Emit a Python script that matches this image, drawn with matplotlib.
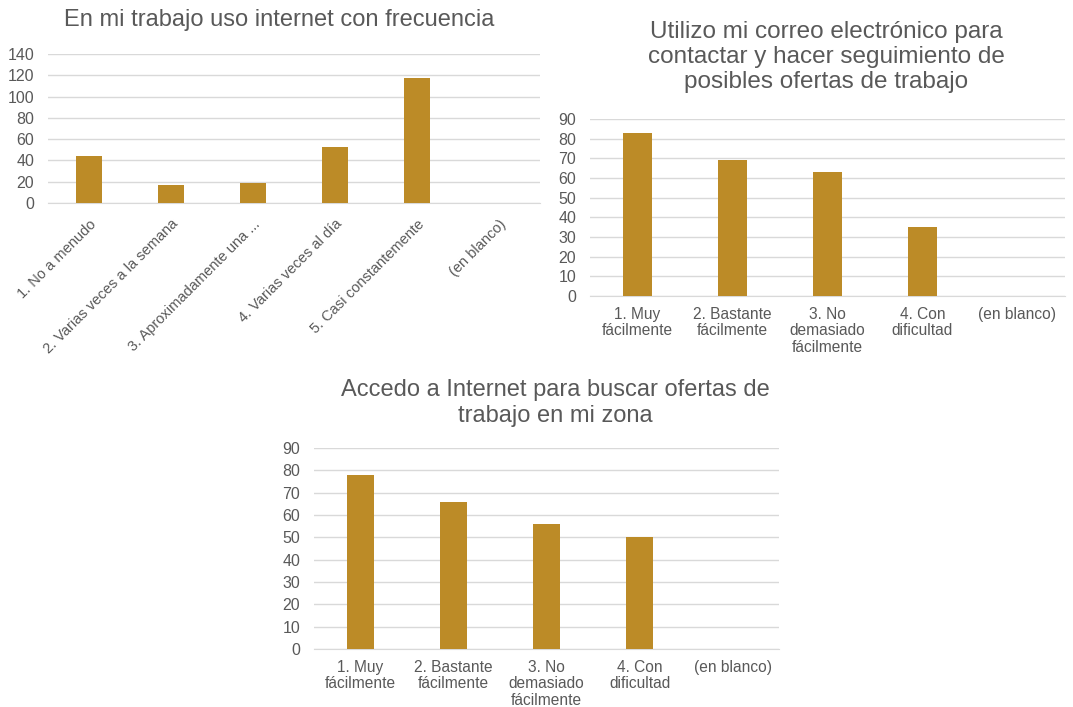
import matplotlib
matplotlib.use("Agg")
import matplotlib.pyplot as plt
import numpy as np

plt.rcParams['font.family'] = ['Liberation Sans', 'DejaVu Sans']

# chart 1
cats1 = ["1. No a menudo", "2. Varias veces a la semana", "3. Aproximadamente una ...",
         "4. Varias veces al día", "5. Casi constantemente", "(en blanco)"]
vals1 = [44, 17, 19, 53, 117, 0]
title1 = "En mi trabajo uso internet con frecuencia"

# chart 2
cats2 = ["1. Muy\nfácilmente", "2. Bastante\nfácilmente", "3. No\ndemasiado\nfácilmente",
         "4. Con\ndificultad", "(en blanco)"]
vals2 = [83, 69, 63, 35, 0]
title2 = "Utilizo mi correo electrónico para\ncontactar y hacer seguimiento de\nposibles ofertas de trabajo"

# chart 3
cats3 = cats2
vals3 = [78, 66, 56, 50, 0]
title3 = "Accedo a Internet para buscar ofertas de\ntrabajo en mi zona"

BAR = '#BC8B27'
TXT = '#595959'
GRID = '#D9D9D9'
W, H = 1073, 707

fig = plt.figure(figsize=(W / 100, H / 100), dpi=100)


def px_axes(x0, y0, x1, y1):
    return fig.add_axes([x0 / W, 1 - y1 / H, (x1 - x0) / W, (y1 - y0) / H])


def draw(ax, cats, vals, ymax, step, rot=False, width=0.3):
    x = np.arange(len(cats))
    ax.bar(x, vals, width=width, color=BAR, zorder=3)
    ax.set_xlim(-0.5, len(cats) - 0.5)
    ax.set_ylim(0, ymax)
    ax.set_yticks(np.arange(0, ymax + 1, step))
    ax.yaxis.grid(True, color=GRID, linewidth=1)
    ax.set_axisbelow(True)
    for s in ['top', 'right', 'left']:
        ax.spines[s].set_visible(False)
    ax.spines['bottom'].set_color(GRID)
    ax.tick_params(length=0, colors=TXT)
    ax.set_xticks(x)
    if rot:
        ax.set_xticklabels(cats, rotation=45, ha='right', rotation_mode='anchor',
                           fontsize=10.5)
        ax.tick_params(axis='x', pad=10)
    else:
        ax.set_xticklabels(cats, linespacing=1.1, fontsize=11.2)
        ax.tick_params(axis='x', pad=8)
    ax.tick_params(axis='y', pad=10, labelsize=11.5)


ax1 = px_axes(48, 54, 540, 203)
draw(ax1, cats1, vals1, 140, 20, rot=True, width=0.32)
fig.text(279 / W, 1 - 20 / H, title1, ha='center', va='center', fontsize=17, color=TXT)

ax2 = px_axes(590, 119, 1065, 296)
draw(ax2, cats2, vals2, 90, 10)
fig.text(826 / W, 1 - 57 / H, title2, ha='center', va='center', fontsize=17.5, color=TXT,
         linespacing=1.2)

ax3 = px_axes(314, 448, 779, 649)
draw(ax3, cats3, vals3, 90, 10)
fig.text(555 / W, 1 - 403 / H, title3, ha='center', va='center', fontsize=17, color=TXT,
         linespacing=1.2)

fig.savefig('out.png', dpi=100)
